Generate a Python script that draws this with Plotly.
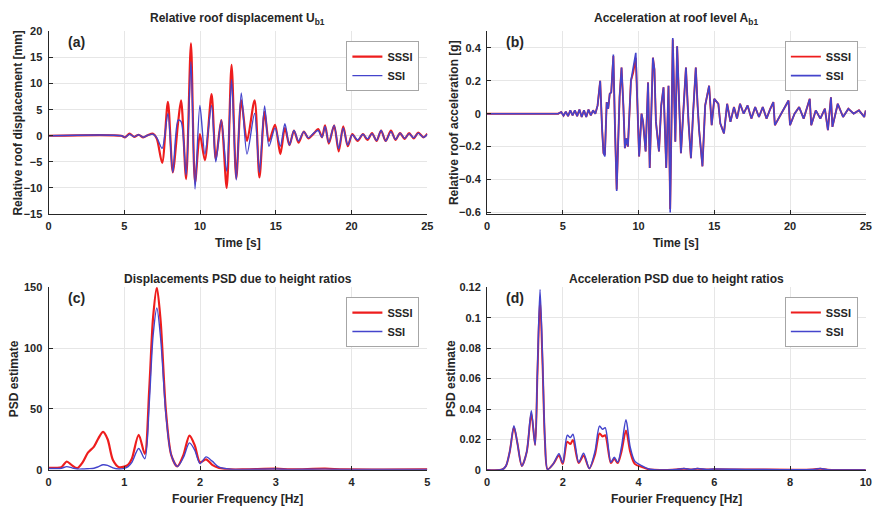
import plotly.graph_objects as go

# ---------------- data ----------------
# (a) relative roof displacement [mm]
t_disp = [0, 4.8, 5.05, 5.35, 5.65, 5.95, 6.25, 6.55, 6.9, 7.15,
          7.5, 7.88, 8.2, 8.55, 8.75, 9.08, 9.4, 9.67, 9.99, 10.32,
          10.76, 11.04, 11.4, 11.76, 12.08, 12.39, 12.72, 13.1, 13.6, 13.92,
          14.26, 14.55, 14.95, 15.3, 15.6, 15.9, 16.2, 16.5, 16.85, 17.15,
          17.5, 17.8, 18.05, 18.25, 18.5, 18.85, 19.15, 19.45, 19.75, 20.05,
          20.4, 20.75, 21.05, 21.35, 21.65, 21.95, 22.25, 22.6, 22.9, 23.2,
          23.5, 23.8, 24.1, 24.4, 24.75, 25]
u_sssi = [0, 0, -0.3, 0.4, -0.2, 0.2, -0.3, 0.1, 0.4, -0.6,
          -5.2, 6.5, -7.0, 2.5, 6.8, -8.3, 17.7, -9.0, 0.3, -4.7,
          8.0, -4.5, 3.0, -10.0, 13.6, -8.2, 6.8, -1.0, 6.8, -8.0,
          4.6, -1.0, 2.1, -3.5, 1.5, -1.8, 1.0, -1.3, 0.8, -0.5,
          0.4, 1.3, -0.3, 2.0, -1.5, 2.0, -3.0, 1.8, -2.0, 0.3,
          -1.0, 0.3, -0.8, 0.5, -1.0, 1.0, -1.0, 1.0, -0.8, 0.5,
          -0.6, 0.5, -0.5, 0.6, -0.3, 0.4]
u_ssi = [0, 0, -0.3, 0.3, -0.2, 0.2, -0.3, 0.1, 0.3, -0.4,
         -2.4, 4.3, -7.0, 3.0, 2.7, -7.5, 14.2, -10.2, 5.8, -3.5,
         5.8, -5.0, 3.0, -6.8, 10.8, -8.5, 8.2, -3.5, 4.3, -7.0,
         5.7, -2.0, 1.5, -2.0, 2.3, -1.8, 1.0, -1.0, 0.8, -0.4,
         0.5, 1.0, -0.3, 1.8, -1.3, 2.0, -2.5, 1.5, -1.8, 0.2,
         -0.8, 0.3, -0.6, 0.4, -0.9, 1.0, -1.0, 0.8, -0.7, 0.5,
         -0.5, 0.4, -0.4, 0.5, -0.3, 0.3]

# (b) relative roof acceleration [g]
t_acc = [0, 4.7, 4.9, 5.05, 5.2, 5.35, 5.5, 5.65, 5.8, 5.95,
         6.1, 6.25, 6.4, 6.55, 6.7, 6.85, 7.0, 7.15, 7.3, 7.47,
         7.6, 7.69, 7.78, 7.9, 8.0, 8.1, 8.2, 8.34, 8.45, 8.56,
         8.75, 8.88, 9.0, 9.1, 9.2, 9.3, 9.5, 9.65, 9.82, 10.04,
         10.2, 10.3, 10.47, 10.63, 10.74, 10.95, 11.05, 11.15, 11.35, 11.5,
         11.65, 11.83, 11.98, 12.09, 12.26, 12.43, 12.55, 12.8, 12.95, 13.13,
         13.3, 13.46, 13.6, 13.78, 13.9, 14.0, 14.22, 14.4, 14.66, 14.83,
         15.0, 15.27, 15.4, 15.64, 15.85, 16.07, 16.3, 16.5, 16.7, 16.94,
         17.2, 17.45, 17.7, 17.95, 18.2, 18.45, 18.7, 18.9, 19.0, 19.3,
         19.6, 19.9, 20.0, 20.3, 20.6, 20.9, 21.3, 21.4, 21.7, 22.0,
         22.3, 22.5, 22.7, 22.8, 23.15, 23.5, 23.85, 24.2, 24.55, 24.9,
         25]
a_ssi = [0, 0, 0.01, -0.012, 0.012, -0.015, 0.02, -0.01, 0.02, -0.015,
         0.025, -0.02, 0.02, -0.02, 0.025, -0.01, 0.02, 0.0, 0.05, 0.2,
         -0.1, -0.24, -0.26, 0.07, 0.03, 0.12, 0.13, 0.36, -0.1, -0.47,
         0.1, 0.28, 0.05, -0.21, -0.15, -0.2, 0.2, 0.27, 0.37, -0.26,
         0.0, -0.05, -0.23, 0.19, -0.33, 0.34, 0.27, -0.05, -0.23, 0.05,
         0.16, -0.33, 0.17, -0.6, 0.46, -0.17, 0.41, -0.24, 0.0, 0.28,
         -0.05, -0.27, 0.0, 0.28, 0.05, -0.1, -0.32, 0.05, 0.17, -0.07,
         0.09, 0.06, -0.06, -0.12, 0.06, -0.05, 0.04, -0.03, 0.06, 0.0,
         0.05, -0.03, 0.04, -0.02, 0.04, -0.03, 0.03, 0.07, -0.07, -0.02,
         0.03, 0.08, -0.07, 0.0, 0.04, -0.03, 0.09, -0.07, 0.02, -0.03,
         0.03, -0.1, 0.1, -0.08, 0.06, -0.02, 0.03, 0.0, 0.02, -0.02,
         0.02]
a_sssi = [0, 0, 0.01, -0.012, 0.012, -0.015, 0.02, -0.01, 0.02, -0.015,
          0.025, -0.02, 0.02, -0.02, 0.025, -0.01, 0.02, 0.0, 0.05, 0.2,
          -0.1, -0.24, -0.25, 0.07, 0.03, 0.12, 0.13, 0.35, -0.1, -0.46,
          0.1, 0.28, 0.05, -0.21, -0.15, -0.2, 0.2, 0.25, 0.34, -0.26,
          0.0, -0.05, -0.23, 0.19, -0.33, 0.34, 0.27, -0.05, -0.23, 0.05,
          0.16, -0.33, 0.17, -0.58, 0.45, -0.17, 0.41, -0.24, 0.0, 0.28,
          -0.05, -0.27, 0.0, 0.28, 0.05, -0.1, -0.32, 0.05, 0.17, -0.07,
          0.09, 0.06, -0.06, -0.12, 0.06, -0.05, 0.04, -0.03, 0.06, 0.0,
          0.05, -0.03, 0.04, -0.02, 0.04, -0.03, 0.03, 0.07, -0.07, -0.02,
          0.03, 0.08, -0.07, 0.0, 0.04, -0.03, 0.09, -0.07, 0.02, -0.03,
          0.03, -0.1, 0.1, -0.08, 0.06, -0.02, 0.03, 0.0, 0.02, -0.02,
          0.02]

# (c) displacement PSD
f_dpsd = [0, 0.1, 0.17, 0.24, 0.31, 0.38, 0.45, 0.52, 0.6, 0.66,
          0.72, 0.78, 0.85, 0.93, 1.0, 1.05, 1.1, 1.19, 1.27, 1.33,
          1.38, 1.43, 1.48, 1.55, 1.62, 1.7, 1.78, 1.86, 1.93, 2.0,
          2.08, 2.16, 2.25, 2.4, 2.6, 3.0, 3.2, 3.65, 3.9, 5.0]
psd_d_sssi = [1.5, 1.5, 2.0, 6.7, 3.5, 1.3, 6.0, 14, 19, 26,
              31, 25, 8, 2, 2.5, 4, 9, 28.7, 13, 67,
              125, 150, 122, 48, 12, 2.7, 12, 28, 20, 6,
              8.5, 4, 1.5, 0.2, 0.2, 0.8, 0.3, 0.8, 0.2, 0.2]
psd_d_ssi = [1.0, 1.0, 1.2, 2.5, 1.5, 0.5, 0.5, 0.8, 1.2, 2.5,
             4, 3.5, 1.5, 0.5, 1, 2.5, 6, 17.4, 9, 55,
             110, 133, 108, 45, 12, 2.5, 10, 22, 16, 5,
             10.5, 7, 2, 0.3, 0.2, 0.5, 0.2, 0.4, 0.2, 0.2]

# (d) acceleration PSD
f_apsd = [0, 0.4, 0.5, 0.6, 0.71, 0.8, 0.92, 1.05, 1.17, 1.27,
          1.33, 1.4, 1.47, 1.53, 1.6, 1.75, 1.9, 2.0, 2.12, 2.2,
          2.27, 2.42, 2.55, 2.7, 2.85, 2.97, 3.05, 3.12, 3.27, 3.36,
          3.45, 3.55, 3.67, 3.78, 3.9, 4.1, 4.3, 5.0, 5.2, 5.4,
          5.55, 5.8, 6.0, 7.0, 8.6, 8.8, 9.0, 10]
psd_a_ssi = [0, 0.0003, 0.0026, 0.012, 0.029, 0.018, 0.0026, 0.012, 0.0389, 0.0164,
             0.064, 0.1185, 0.07, 0.02, 0.0004, 0.004, 0.0107, 0.0047, 0.0228, 0.0213,
             0.0235, 0.005, 0.011, 0.001, 0.012, 0.0288, 0.0267, 0.0278, 0.005, 0.0083,
             0.005, 0.015, 0.0329, 0.015, 0.0058, 0.0026, 0.0004, 0.0003, 0.001, 0.0003,
             0.001, 0.0003, 0.0006, 0.0003, 0.0003, 0.001, 0.0002, 0]
psd_a_sssi = [0, 0.0003, 0.0026, 0.012, 0.028, 0.018, 0.0026, 0.012, 0.037, 0.0164,
              0.062, 0.112, 0.067, 0.019, 0.0004, 0.004, 0.0095, 0.004, 0.0186, 0.017,
              0.0196, 0.0045, 0.0095, 0.001, 0.01, 0.024, 0.022, 0.0228, 0.0045, 0.0073,
              0.0045, 0.012, 0.026, 0.012, 0.004, 0.0018, 0.0003, 0.0003, 0.0008, 0.0003,
              0.0008, 0.0003, 0.0004, 0.0003, 0.0003, 0.0008, 0.0002, 0]

series_names = ["SSSI", "SSI"]
titles = ["Relative roof displacement U<sub>b1</sub>",
          "Acceleration at roof level A<sub>b1</sub>",
          "Displacements PSD due to height ratios",
          "Acceleration PSD due to height ratios"]
panel_labels = ["(a)", "(b)", "(c)", "(d)"]
x_titles = ["Time [s]", "Time [s]", "Fourier Frequency [Hz]", "Fourier Frequency [Hz]"]
y_titles = ["Relative roof displacement [mm]", "Relative roof acceleration [g]",
            "PSD estimate", "PSD estimate"]

# ---------------- styling ----------------
W, H = 880, 516
FONT = "Liberation Sans"
TXT = "#262626"
RED = "#ee1d1d"
BLUE = "#4444cc"


def px_x(p):
    return p / W


def px_y(p):
    return 1 - p / H


# plot areas in pixels: (left, right, top, bottom)
boxes = [(46, 428.7, 26, 213), (489, 871.7, 26, 213),
         (46, 428.7, 288, 474.7), (489, 871.7, 288, 475)]
ytitle_off = [31, 34, 34, 37]
title_off = [13, 13, 8, 8]
red_w = [2.2, 1.9, 2.2, 2.0]
blue_w = [1.4, 1.6, 1.4, 1.5]

fig = go.Figure()

data = [
    (t_disp, u_sssi, u_ssi, "spline"),
    (t_acc, a_sssi, a_ssi, "linear"),
    (f_dpsd, psd_d_sssi, psd_d_ssi, "spline"),
    (f_apsd, psd_a_sssi, psd_a_ssi, "spline"),
]

for i, (x, yr, yb, shape) in enumerate(data):
    k = "" if i == 0 else str(i + 1)
    leg = "legend" if i == 0 else "legend" + str(i + 1)
    fig.add_trace(go.Scatter(x=x, y=yr, mode="lines", name=series_names[0],
                             line=dict(color=RED, width=red_w[i], shape=shape, smoothing=0.8),
                             xaxis="x" + k, yaxis="y" + k, legend=leg))
    fig.add_trace(go.Scatter(x=x, y=yb, mode="lines", name=series_names[1],
                             line=dict(color=BLUE, width=blue_w[i], shape=shape, smoothing=0.8),
                             xaxis="x" + k, yaxis="y" + k, legend=leg))

axis_common = dict(showline=True, linecolor=TXT, linewidth=1, mirror=False,
                   ticks="inside", ticklen=4, tickcolor=TXT,
                   showgrid=True, gridcolor="#e6e6e6", gridwidth=1, zeroline=False,
                   tickfont=dict(family=FONT, size=11, color=TXT, weight="bold"),
                   fixedrange=True)

x_ranges = [[0, 25], [0, 25], [0, 5], [0, 10]]
x_dticks = [5, 5, 1, 2]
y_ranges = [[-15, 20], [-0.61, 0.5], [0, 150], [0, 0.12]]
y_dticks = [5, 0.2, 50, 0.02]

layout = dict(width=W, height=H, margin=dict(l=0, r=0, t=0, b=0),
              paper_bgcolor="white", plot_bgcolor="white",
              font=dict(family=FONT, color=TXT))
annotations = []
for i, (l, r, t, b) in enumerate(boxes):
    k = "" if i == 0 else str(i + 1)
    layout["xaxis" + k] = dict(axis_common, domain=[px_x(l), px_x(r)], range=x_ranges[i],
                               dtick=x_dticks[i], tick0=0, anchor="y" + k,
                               ticklabelstandoff=2)
    layout["yaxis" + k] = dict(axis_common, domain=[px_y(b), px_y(t)], range=y_ranges[i],
                               dtick=y_dticks[i], tick0=0, anchor="x" + k,
                               ticklabelstandoff=3)
    leg = "legend" if i == 0 else "legend" + str(i + 1)
    layout[leg] = dict(x=px_x(r - 8), y=px_y(t + 10), xanchor="right", yanchor="top",
                       bgcolor="white", bordercolor="#a6a6a6", borderwidth=1,
                       font=dict(family=FONT, size=11, color=TXT, weight="bold"),
                       tracegroupgap=0, itemwidth=30)
    cx = (l + r) / 2
    # panel title
    annotations.append(dict(text="<b>" + titles[i] + "</b>", x=px_x(cx), y=px_y(t - title_off[i]),
                            xref="paper", yref="paper", showarrow=False,
                            xanchor="center", yanchor="middle",
                            font=dict(family=FONT, size=12, color=TXT)))
    # panel label
    annotations.append(dict(text="<b>" + panel_labels[i] + "</b>", x=px_x(l + 28), y=px_y(t + 11),
                            xref="paper", yref="paper", showarrow=False,
                            xanchor="center", yanchor="middle",
                            font=dict(family=FONT, size=14, color=TXT)))
    # x title
    annotations.append(dict(text="<b>" + x_titles[i] + "</b>", x=px_x(cx), y=px_y(b + 30),
                            xref="paper", yref="paper", showarrow=False,
                            xanchor="center", yanchor="middle",
                            font=dict(family=FONT, size=12, color=TXT)))
    # y title
    annotations.append(dict(text="<b>" + y_titles[i] + "</b>", x=px_x(l - ytitle_off[i]),
                            y=px_y((t + b) / 2),
                            xref="paper", yref="paper", showarrow=False, textangle=-90,
                            xanchor="center", yanchor="middle",
                            font=dict(family=FONT, size=12, color=TXT)))

layout["annotations"] = annotations
fig.update_layout(**layout)
fig.write_html("out.html")
